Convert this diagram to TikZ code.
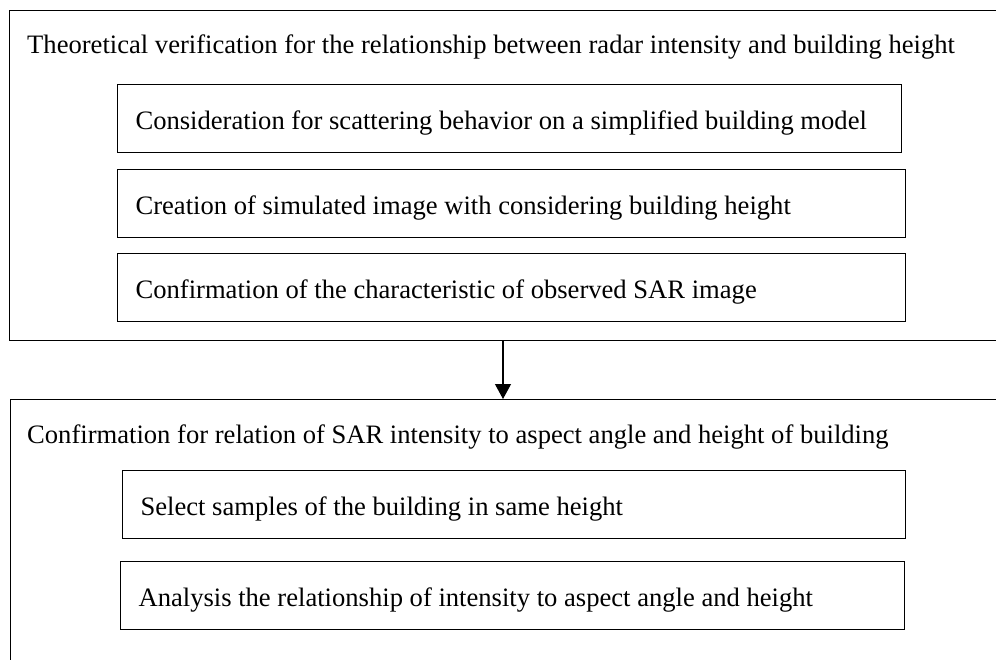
\documentclass[tikz,border=0pt]{standalone}
\usepackage{fontspec}
\setmainfont{Liberation Serif}
\usetikzlibrary{arrows.meta,positioning}

\tikzset{
  outerbox/.style={draw,line width=1.2pt,anchor=north west,inner sep=0pt},
  innerbox/.style={draw,line width=1.1pt,anchor=north west,minimum height=68pt,
                   inner xsep=18pt,text height=24pt,text depth=2pt,
                   align=flush left,font=\fontsize{26.6}{31}\selectfont},
  titletext/.style={anchor=base west,inner sep=0pt,font=\fontsize{26.6}{31}\selectfont}
}

\begin{document}
\begin{tikzpicture}[x=1pt,y=-1pt]
    \useasboundingbox (0,0) rectangle (996,659);
    \clip (0,0) rectangle (996,659);
    % upper block
    \node[outerbox,minimum width=1010pt,minimum height=330pt] (theory) at (9,10){};
    \node[titletext] (theorytitle) at (27,53){Theoretical verification for the relationship between radar intensity and building height};
    \node[innerbox,text width=748pt] (scatter) at (117,84){Consideration for scattering behavior on a simplified building model};
    \node[innerbox,text width=752pt] (simul) at (117,169){Creation of simulated image with considering building height};
    \node[innerbox,text width=752pt] (observ) at (117,253){Confirmation of the characteristic of observed SAR image};
    % lower block
    \node[outerbox,minimum width=1010pt,minimum height=300pt] (confirm) at (10,399){};
    \node[titletext] (confirmtitle) at (27,443){Confirmation for relation of SAR intensity to aspect angle and height of building};
    \node[innerbox,text width=747pt] (samples) at (122,470){Select samples of the building in same height};
    \node[innerbox,text width=748pt] (analysis) at (120,561){Analysis the relationship of intensity to aspect angle and height};
    % link
    \coordinate (split) at (503,0);
    \draw[line width=1.1pt,-{Triangle[width=16pt,length=15pt]}] (theory.south -| split) -- (confirm.north -| split);
\end{tikzpicture}
\end{document}
